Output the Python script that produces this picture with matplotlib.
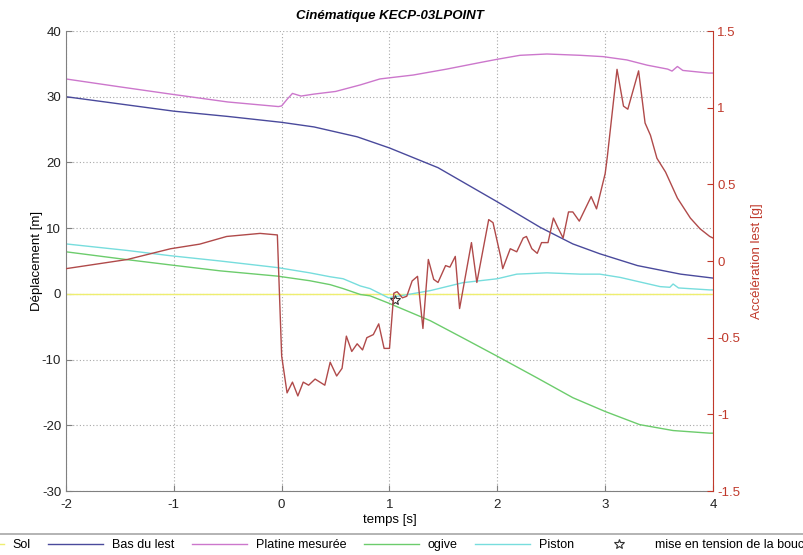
import matplotlib
matplotlib.use("Agg")
import matplotlib.pyplot as plt

plt.rcParams['font.family'] = ['Liberation Sans', 'DejaVu Sans']
plt.rcParams['axes.unicode_minus'] = False

# ---- data -------------------------------------------------------------
sol_t = [-2, 4]
sol_v = [0, 0]

bas_t = [-2, -1.5, -1.0, -0.5, 0.0, 0.3, 0.7, 1.0, 1.45, 2.0, 2.4,
         2.7, 2.95, 3.3, 3.7, 4.0]
bas_v = [30.0, 28.9, 27.8, 27.0, 26.1, 25.4, 23.9, 22.2, 19.2, 14.0, 10.1,
         7.6, 6.1, 4.3, 3.0, 2.4]

platine_t = [-2, -1.5, -1.03, -0.5, -0.03, 0.0, 0.05, 0.1, 0.18, 0.3, 0.5, 0.73,
             0.91, 0.96, 1.22, 1.53, 1.84, 2.0, 2.21, 2.46, 2.77, 2.98, 3.2, 3.39,
             3.58, 3.62, 3.67, 3.72, 3.96, 4.0]
platine_v = [32.7, 31.5, 30.4, 29.2, 28.5, 28.6, 29.6, 30.5, 30.1, 30.4, 30.8, 31.8,
             32.7, 32.8, 33.3, 34.2, 35.2, 35.7, 36.3, 36.5, 36.3, 36.1, 35.6, 34.8,
             34.2, 33.9, 34.6, 34.0, 33.6, 33.6]

ogive_t = [-2, -1.43, -1.03, -0.57, -0.04, 0.26, 0.45, 0.57, 0.73, 0.82, 0.99,
           1.38, 1.68, 2.0, 2.37, 2.7, 3.0, 3.32, 3.63, 3.97, 4.0]
ogive_v = [6.4, 5.2, 4.4, 3.5, 2.7, 2.0, 1.4, 0.8, -0.1, -0.3, -1.4,
           -4.1, -6.7, -9.5, -12.8, -15.8, -17.9, -19.9, -20.8, -21.2, -21.2]

piston_t = [-2, -1.43, -1.03, -0.57, -0.04, 0.26, 0.45, 0.57, 0.73, 0.82, 0.99,
            1.1, 1.38, 1.68, 2.0, 2.18, 2.46, 2.77, 2.95, 3.14, 3.51, 3.6, 3.63,
            3.68, 3.97, 4.0]
piston_v = [7.6, 6.6, 5.8, 5.0, 4.0, 3.2, 2.6, 2.3, 1.2, 0.8, -0.6,
            -0.3, 0.5, 1.7, 2.3, 3.0, 3.2, 3.0, 3.0, 2.5, 1.1, 1.0, 1.5,
            0.9, 0.6, 0.6]

tension_t = [1.05]
tension_v = [-0.9]

acc_t = [-2, -1.43, -1.03, -0.76, -0.51, -0.2, -0.04, 0.0, 0.05, 0.1, 0.15, 0.2,
         0.25, 0.31, 0.4, 0.45, 0.51, 0.56, 0.6, 0.65, 0.7, 0.75, 0.79, 0.85,
         0.9, 0.95, 1.0, 1.04, 1.07, 1.12, 1.16, 1.21, 1.26, 1.31, 1.36, 1.41,
         1.45, 1.52, 1.56, 1.61, 1.65, 1.76, 1.81, 1.92, 1.96, 2.03, 2.05, 2.12,
         2.18, 2.24, 2.27, 2.32, 2.37, 2.41, 2.47, 2.52, 2.56, 2.61, 2.66, 2.7,
         2.76, 2.87, 2.92, 3.0, 3.02, 3.11, 3.17, 3.21, 3.31, 3.37, 3.42, 3.48,
         3.56, 3.67, 3.79, 3.88, 3.97, 4.0]
acc_v = [-0.05, 0.01, 0.08, 0.11, 0.16, 0.18, 0.17, -0.62, -0.86, -0.79, -0.88, -0.79,
         -0.81, -0.77, -0.81, -0.66, -0.75, -0.70, -0.49, -0.59, -0.54, -0.58, -0.50, -0.48,
         -0.41, -0.57, -0.57, -0.21, -0.20, -0.24, -0.23, -0.13, -0.10, -0.44, 0.01, -0.12,
         -0.14, -0.03, -0.04, 0.03, -0.31, 0.12, -0.14, 0.27, 0.25, 0.03, -0.05, 0.08,
         0.06, 0.15, 0.16, 0.08, 0.05, 0.12, 0.12, 0.28, 0.22, 0.15, 0.32, 0.32,
         0.26, 0.42, 0.34, 0.57, 0.68, 1.25, 1.01, 0.99, 1.24, 0.90, 0.82, 0.67,
         0.58, 0.41, 0.28, 0.21, 0.16, 0.15]

x_ticks = [-2, -1, 0, 1, 2, 3, 4]
left_ticks = [-30, -20, -10, 0, 10, 20, 30, 40]
right_ticks = [-1.5, -1, -0.5, 0, 0.5, 1, 1.5]
right_tick_labels = ['-1.5', '-1', '-0.5', '0', '0.5', '1', '1.5']

# ---- figure -----------------------------------------------------------
W, H = 804, 555
fig = plt.figure(figsize=(W / 100, H / 100), dpi=100)
ax = fig.add_axes([66 / W, 1 - 491 / H, (713 - 66) / W, (491 - 31) / H])
ax2 = ax.twinx()

FS = 9.5
LFS = 9
grey = '#808080'
red_axis = '#c0392b'

lw = 1.0
ax.plot(sol_t, sol_v, color='#eeee70', lw=lw, label='Sol')
ax.plot(bas_t, bas_v, color='#4a4a9c', lw=lw, label='Bas du lest')
ax.plot(platine_t, platine_v, color='#cc77cc', lw=lw, label='Platine mesurée')
ax.plot(ogive_t, ogive_v, color='#6ccc6c', lw=lw, label='ogive')
ax.plot(piston_t, piston_v, color='#77dddd', lw=lw, label='Piston')
ax.plot(tension_t, tension_v, linestyle='none', marker='*', markersize=7,
        markerfacecolor='white', markeredgecolor='#333333', markeredgewidth=0.8,
        label='mise en tension de la boucle')

ax2.plot(acc_t, acc_v, color='#b04a4a', lw=lw)

ax.set_xlim(-2, 4)
ax.set_ylim(-30, 40)
ax2.set_ylim(-1.5, 1.5)
ax.set_xticks(x_ticks)
ax.set_yticks(left_ticks)
ax2.set_yticks(right_ticks)
ax2.set_yticklabels(right_tick_labels)

ax.grid(True, linestyle=(0, (1, 2)), color='#a8a8a8', linewidth=0.8)
ax.set_axisbelow(True)

for a in (ax, ax2):
    a.spines['top'].set_visible(False)
ax.spines['left'].set_color(grey)
ax.spines['bottom'].set_color(grey)
ax.spines['right'].set_visible(False)
ax2.spines['left'].set_visible(False)
ax2.spines['bottom'].set_visible(False)
ax2.spines['right'].set_color(red_axis)

ax.tick_params(axis='both', direction='in', length=4, color=grey,
               labelsize=FS, labelcolor='#222222')
ax.tick_params(axis='x', pad=6)
ax2.tick_params(axis='y', direction='in', length=4, color=red_axis,
                labelsize=FS, labelcolor=red_axis, pad=3)

ax.set_xlabel('temps [s]', fontsize=FS, labelpad=2)
ax.set_ylabel('Déplacement [m]', fontsize=FS, labelpad=-1)
ax2.set_ylabel('Accélération lest [g]', fontsize=FS, color=red_axis, labelpad=8)
ax.set_title('Cinématique KECP-03LPOINT', fontsize=FS, fontweight='bold',
             fontstyle='italic', pad=9)

# horizontal legend strip along the bottom edge (wider than the figure)
handles, labels = ax.get_legend_handles_labels()
leg = fig.legend(handles, labels, loc='upper left', ncol=6,
                 bbox_to_anchor=(-56 / W, 1 - 534 / H), borderaxespad=0,
                 fontsize=LFS, handlelength=4.4, handletextpad=0.7,
                 columnspacing=1.4, frameon=True, fancybox=False,
                 edgecolor='#909090', borderpad=0.4)
leg.get_frame().set_linewidth(1.2)

fig.savefig('out.png', dpi=100)
